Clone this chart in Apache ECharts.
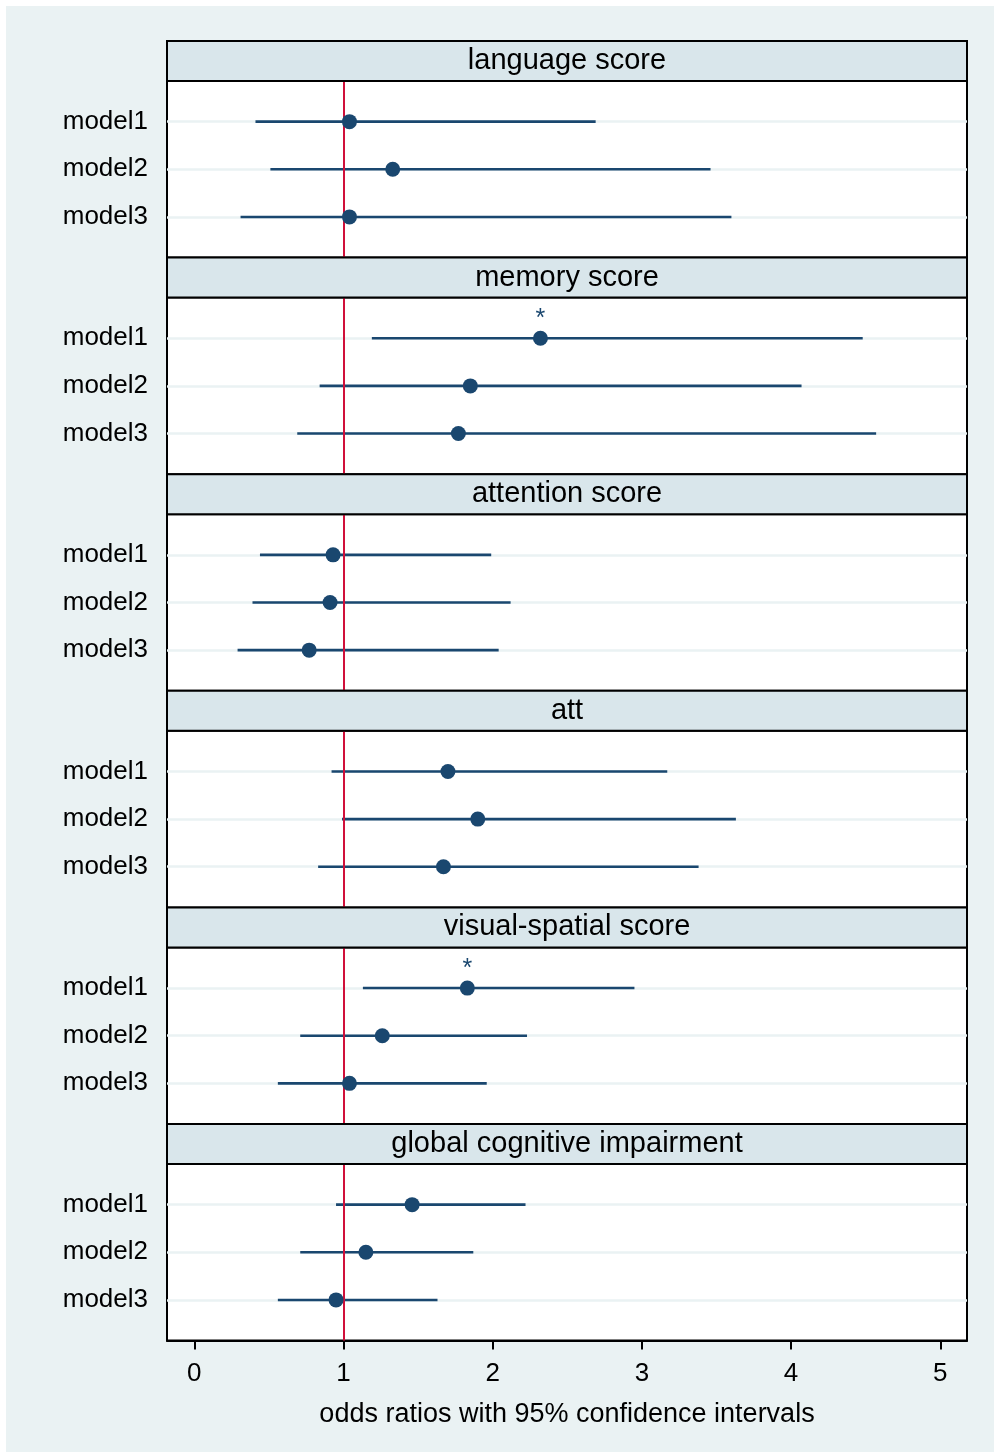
<!DOCTYPE html>
<html>
<head>
<meta charset="utf-8">
<script src="https://cdn.jsdelivr.net/npm/echarts@6.0.0/dist/echarts.min.js"></script>
<style>
  html, body { margin: 0; padding: 0; background: #fff; }
  #chart { width: 994px; height: 1452px; }
</style>
</head>
<body>
<div id="chart"></div>
<script>
// data
var panels = ['language score', 'memory score', 'attention score', 'att', 'visual-spatial score', 'global cognitive impairment'];
var models = ['model1', 'model2', 'model3'];
var oddsRatio = [
  [1.04, 1.33, 1.04],
  [2.32, 1.85, 1.77],
  [0.93, 0.91, 0.77],
  [1.70, 1.90, 1.67],
  [1.83, 1.26, 1.04],
  [1.46, 1.15, 0.95]
];
var lowerCI = [
  [0.41, 0.51, 0.31],
  [1.19, 0.84, 0.69],
  [0.44, 0.39, 0.29],
  [0.92, 0.99, 0.83],
  [1.13, 0.71, 0.56],
  [0.95, 0.71, 0.56]
];
var upperCI = [
  [2.69, 3.46, 3.60],
  [4.48, 4.07, 4.57],
  [1.99, 2.12, 2.04],
  [3.17, 3.63, 3.38],
  [2.95, 2.23, 1.96],
  [2.22, 1.87, 1.63]
];
var stars = [
  ['', '', ''],
  ['*', '', ''],
  ['', '', ''],
  ['', '', ''],
  ['*', '', ''],
  ['', '', '']
];
var xTicks = [0, 1, 2, 3, 4, 5];
var refLine = 1;

var navy = '#1A476F';
var red = '#D0103A';
var font = '"Liberation Sans", Arial, sans-serif';

var chart = echarts.init(document.getElementById('chart'));

var left = 167, width = 800;
var firstTop = 41, pitch = 216.6, stripH = 40;

var grids = [], xAxes = [], yAxes = [], series = [], graphics = [];

graphics.push({
  type: 'rect', z: -10, silent: true,
  shape: { x: 6, y: 6, width: 988, height: 1446 },
  style: { fill: '#EAF2F3' }
});

panels.forEach(function (name, i) {
  var stripTop = firstTop + i * pitch;
  var last = i === panels.length - 1;

  grids.push({
    left: left, width: width,
    top: stripTop + stripH, height: pitch - stripH,
    show: true, backgroundColor: '#fff',
    borderColor: '#000', borderWidth: 2
  });

  xAxes.push({
    gridIndex: i, type: 'value', min: -0.183, max: 5.179,
    splitLine: { show: false },
    axisLine: { show: last, onZero: false, lineStyle: { color: '#000', width: 2 } },
    axisTick: { show: last, customValues: xTicks, length: 9, lineStyle: { color: '#000', width: 2 } },
    axisLabel: { show: last, customValues: xTicks, fontSize: 26, color: '#000', fontFamily: font, margin: 20 },
    name: last ? 'odds ratios with 95% confidence intervals' : '',
    nameLocation: 'middle', nameGap: 60,
    nameTextStyle: { fontSize: 27, color: '#000', fontFamily: font }
  });

  yAxes.push({
    gridIndex: i, type: 'value', inverse: true, min: 0.146, max: 3.854,
    splitLine: { show: false },
    axisLine: { show: false },
    axisTick: { show: false },
    axisLabel: {
      customValues: [1, 2, 3],
      formatter: function (v) { return models[Math.round(v) - 1]; },
      fontSize: 26, color: '#000', fontFamily: font, margin: 19,
      padding: [5, 0, 0, 0]
    }
  });

  var ciData = models.map(function (m, j) { return [lowerCI[i][j], upperCI[i][j], j + 1]; });
  var ptData = models.map(function (m, j) {
    var item = { value: [oddsRatio[i][j], j + 1] };
    if (stars[i][j]) {
      item.label = {
        show: true, formatter: stars[i][j], position: 'inside', offset: [0, -19],
        fontSize: 25, color: navy, fontFamily: font
      };
    }
    return item;
  });

  series.push({
    type: 'custom', xAxisIndex: i, yAxisIndex: i, z: 3, silent: true,
    data: ciData,
    encode: { x: [0, 1], y: 2 },
    renderItem: function (params, api) {
      var a = api.coord([api.value(0), api.value(2)]);
      var b = api.coord([api.value(1), api.value(2)]);
      return {
        type: 'line',
        shape: { x1: a[0], y1: a[1], x2: b[0], y2: b[1] },
        style: { stroke: navy, lineWidth: 2.6 }
      };
    },
    markLine: {
      silent: true, symbol: 'none', z: 1,
      label: { show: false },
      lineStyle: { color: '#EAF2F3', width: 2.6, type: 'solid' },
      data: [1, 2, 3].map(function (v) { return { yAxis: v }; })
    }
  });

  series.push({
    type: 'scatter', xAxisIndex: i, yAxisIndex: i, z: 5, silent: true,
    symbol: 'circle', symbolSize: 15,
    itemStyle: { color: navy, opacity: 1 },
    data: ptData,
    markLine: {
      silent: true, symbol: 'none', z: 4,
      label: { show: false },
      lineStyle: { color: red, width: 2, type: 'solid' },
      data: [{ xAxis: refLine }]
    }
  });

  graphics.push({
    type: 'rect', z: 10, silent: true,
    shape: { x: left, y: stripTop, width: width, height: stripH },
    style: { fill: '#D9E6EB', stroke: '#000', lineWidth: 2 }
  });
  graphics.push({
    type: 'text', z: 11, silent: true,
    x: left + width / 2, y: stripTop + stripH / 2,
    style: {
      text: name, fill: '#000', font: '29px ' + font,
      textAlign: 'center', textVerticalAlign: 'middle'
    }
  });
});

chart.setOption({
  backgroundColor: '#fff',
  animation: false,
  grid: grids,
  xAxis: xAxes,
  yAxis: yAxes,
  series: series,
  graphic: { elements: graphics }
});
</script>
</body>
</html>
